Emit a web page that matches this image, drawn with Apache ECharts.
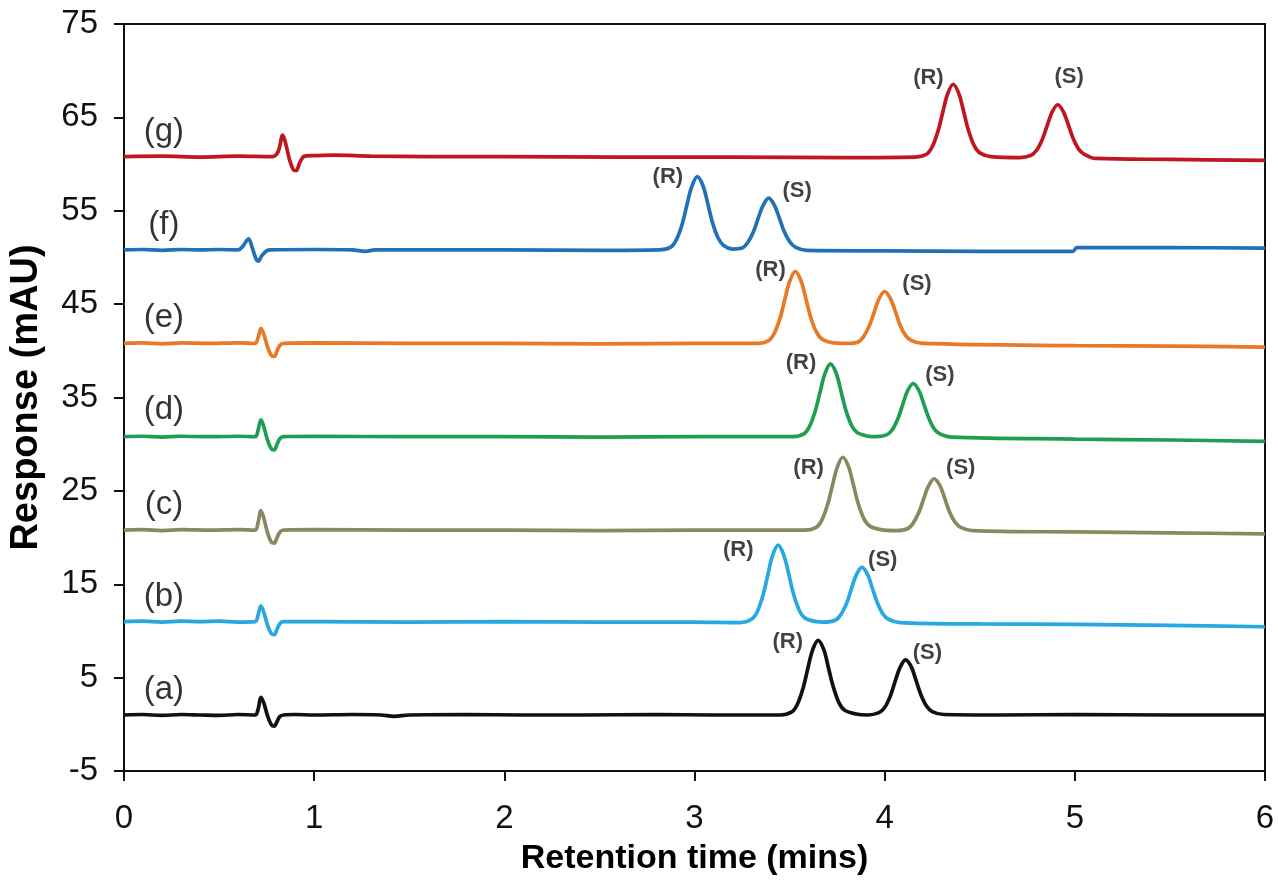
<!DOCTYPE html>
<html>
<head>
<meta charset="utf-8">
<script src="https://cdn.jsdelivr.net/npm/echarts@6/dist/echarts.min.js"></script>
<style>
html,body{margin:0;padding:0;background:#fff;}
#chart{width:1278px;height:887px;}
</style>
</head>
<body>
<div id="chart"></div>
<script>
// ---- data ----
const xTicks = [0, 1, 2, 3, 4, 5, 6];
const yTicks = [-5, 5, 15, 25, 35, 45, 55, 65, 75];

const traceNames = ['(a)', '(b)', '(c)', '(d)', '(e)', '(f)', '(g)'];
const traceColors = ['#111111', '#25a9e0', '#8a8860', '#1f9e52', '#e87a26', '#2171b7', '#c0161e'];

const traceA = [[0,1.0],[0.1,1.05],[0.2,0.95],[0.3,1.05],[0.4,1.0],[0.5,0.95],[0.6,1.05],[0.69,1.0],[0.705,1.6],[0.72,2.9],[0.735,2.3],[0.755,0.9],[0.775,-0.05],[0.79,-0.2],[0.805,0.3],[0.82,0.85],[0.84,1.0],[0.9,1.05],[1.0,1.0],[1.2,1.05],[1.35,1.0],[1.42,0.85],[1.5,1.0],[1.8,1.05],[2.1,1.0],[2.4,1.0],[2.8,1.05],[3.1,1.0],
  [3.45,1.0],[3.51,1.3],[3.54,2.1],[3.57,3.8],[3.595,5.9],[3.62,7.9],[3.65,9.0],[3.68,8.0],[3.705,6.0],[3.73,4.0],[3.76,2.3],[3.79,1.5],[3.85,1.1],
  [3.91,1.0],[3.97,1.25],[4.00,1.8],[4.03,3.05],[4.055,4.6],[4.08,6.05],[4.11,6.9],[4.14,6.15],[4.165,4.7],[4.19,3.2],[4.22,1.95],[4.25,1.35],[4.31,1.05],
  [4.6,1.0],[5.0,1.05],[5.5,1.0],[6,1.0]];

const traceB = [[0,11.0],[0.1,11.05],[0.2,10.95],[0.3,11.05],[0.4,11.0],[0.5,11.05],[0.6,10.95],[0.69,11.0],[0.705,11.7],[0.72,12.7],[0.735,12.0],[0.755,10.6],[0.775,9.7],[0.79,9.6],[0.805,10.2],[0.82,10.8],[0.84,11.0],[1.0,11.0],[1.5,10.95],[2.0,11.0],[2.5,10.95],[3.0,10.95],
  [3.24,10.9],[3.30,11.25],[3.33,12.05],[3.36,13.8],[3.385,15.95],[3.41,18.05],[3.44,19.2],[3.47,18.1],[3.495,16.15],[3.52,14.0],[3.55,12.25],[3.58,11.4],[3.64,11.0],
  [3.68,10.95],[3.74,11.15],[3.77,11.75],[3.80,12.95],[3.825,14.5],[3.85,15.95],[3.88,16.8],[3.91,16.05],[3.935,14.6],[3.96,13.1],[3.99,11.85],[4.02,11.25],[4.08,10.9],
  [4.5,10.75],[5.0,10.7],[5.5,10.6],[6,10.45]];

const traceC = [[0,20.8],[0.1,20.85],[0.2,20.75],[0.3,20.85],[0.45,20.8],[0.6,20.85],[0.69,20.8],[0.705,21.6],[0.72,22.9],[0.735,22.1],[0.755,20.5],[0.775,19.5],[0.79,19.4],[0.805,20.0],[0.82,20.6],[0.84,20.8],[1.0,20.85],[1.5,20.8],[2.0,20.8],[2.5,20.75],[3.0,20.8],
  [3.58,20.8],[3.64,21.1],[3.67,21.9],[3.70,23.55],[3.725,25.55],[3.75,27.5],[3.78,28.6],[3.81,27.6],[3.835,25.7],[3.86,23.7],[3.89,22.05],[3.92,21.25],[3.98,20.85],
  [4.06,20.75],[4.12,20.95],[4.15,21.55],[4.18,22.7],[4.205,24.15],[4.23,25.5],[4.26,26.3],[4.29,25.6],[4.315,24.25],[4.34,22.8],[4.37,21.65],[4.40,21.1],[4.46,20.75],
  [5.0,20.6],[5.5,20.5],[6,20.4]];

const traceD = [[0,30.8],[0.1,30.85],[0.2,30.75],[0.3,30.85],[0.45,30.8],[0.6,30.85],[0.69,30.8],[0.705,31.5],[0.72,32.6],[0.735,31.9],[0.755,30.4],[0.775,29.5],[0.79,29.4],[0.805,30.0],[0.82,30.6],[0.84,30.8],[1.0,30.85],[1.5,30.8],[2.0,30.8],[2.5,30.75],[3.0,30.8],
  [3.515,30.8],[3.575,31.1],[3.605,31.9],[3.635,33.55],[3.66,35.55],[3.685,37.5],[3.715,38.6],[3.745,37.6],[3.77,35.7],[3.795,33.7],[3.825,32.05],[3.855,31.25],[3.915,30.85],
  [3.95,30.8],[4.01,31.0],[4.04,31.55],[4.07,32.75],[4.095,34.25],[4.12,35.7],[4.15,36.5],[4.18,35.75],[4.205,34.35],[4.23,32.9],[4.26,31.65],[4.29,31.1],[4.35,30.75],
  [5.0,30.55],[5.5,30.45],[6,30.3]];

const traceE = [[0,40.8],[0.1,40.85],[0.2,40.75],[0.3,40.85],[0.45,40.8],[0.6,40.85],[0.69,40.8],[0.705,41.4],[0.72,42.4],[0.735,41.8],[0.755,40.4],[0.775,39.5],[0.79,39.4],[0.805,40.0],[0.82,40.6],[0.84,40.8],[1.0,40.85],[1.5,40.8],[2.0,40.8],[2.5,40.75],[3.0,40.8],
  [3.33,40.8],[3.39,41.1],[3.42,41.9],[3.45,43.5],[3.475,45.5],[3.50,47.4],[3.53,48.5],[3.56,47.5],[3.585,45.65],[3.61,43.65],[3.64,42.05],[3.67,41.25],[3.73,40.85],
  [3.80,40.8],[3.86,40.95],[3.89,41.55],[3.92,42.7],[3.945,44.15],[3.97,45.55],[4.00,46.35],[4.03,45.6],[4.055,44.3],[4.08,42.8],[4.11,41.65],[4.14,41.1],[4.20,40.8],
  [5.0,40.55],[5.5,40.5],[6,40.4]];

const traceF = [[0,50.8],[0.1,50.85],[0.2,50.75],[0.3,50.85],[0.4,50.8],[0.5,50.85],[0.6,50.8],[0.625,51.2],[0.655,52.0],[0.675,51.0],[0.695,49.8],[0.705,49.6],[0.725,50.2],[0.75,50.7],[0.77,50.8],[1.0,50.85],[1.2,50.8],[1.27,50.65],[1.32,50.8],[1.6,50.8],[2.0,50.8],[2.5,50.75],
  [2.815,50.8],[2.875,51.1],[2.905,51.9],[2.935,53.55],[2.96,55.6],[2.985,57.55],[3.015,58.65],[3.045,57.65],[3.07,55.75],[3.095,53.7],[3.125,52.05],[3.155,51.25],[3.20,50.9],
  [3.25,51.0],[3.28,51.6],[3.31,52.75],[3.335,54.2],[3.36,55.55],[3.39,56.35],[3.42,55.6],[3.445,54.3],[3.47,52.85],[3.50,51.7],[3.53,51.1],[3.59,50.75],
  [4.0,50.7],[4.5,50.65],[4.99,50.65],[5.01,51.05],[5.5,51.05],[6,51.0]];

const traceG = [[0,60.8],[0.2,60.85],[0.4,60.75],[0.6,60.85],[0.78,60.8],[0.81,61.3],[0.835,63.1],[0.85,62.2],[0.87,60.5],[0.89,59.4],[0.905,59.3],[0.925,60.2],[0.95,60.85],[1.0,60.9],[1.1,60.95],[1.3,60.85],[1.6,60.8],[2.0,60.8],[2.6,60.75],[3.2,60.75],[3.8,60.7],
  [4.16,60.75],[4.22,61.05],[4.25,61.85],[4.28,63.5],[4.305,65.5],[4.33,67.45],[4.36,68.55],[4.39,67.55],[4.415,65.65],[4.44,63.65],[4.47,62.0],[4.50,61.2],[4.56,60.8],
  [4.71,60.7],[4.77,60.95],[4.80,61.5],[4.83,62.7],[4.855,64.15],[4.88,65.55],[4.91,66.35],[4.94,65.6],[4.965,64.25],[4.99,62.8],[5.02,61.6],[5.05,61.05],[5.11,60.6],
  [5.5,60.5],[6,60.4]];

const traces = [traceA, traceB, traceC, traceD, traceE, traceF, traceG];

// trace name labels (a)...(g): position in data units
const traceLabelX = [0.21, 0.21, 0.21, 0.21, 0.21, 0.21, 0.21];
const traceLabelY = [3.7, 13.65, 23.5, 33.7, 43.5, 53.5, 63.4];

// enantiomer peak labels
const peakLabelText = ['(R)','(S)','(R)','(S)','(R)','(S)','(R)','(S)','(R)','(S)','(R)','(S)','(R)','(S)'];
const peakLabelX = [3.49, 4.225, 3.23, 3.99, 3.60, 4.40, 3.56, 4.29, 3.40, 4.17, 2.86, 3.54, 4.23, 4.97];
const peakLabelY = [8.8, 7.65, 18.7, 17.6, 27.45, 27.45, 38.7, 37.4, 48.7, 47.2, 58.6, 57.1, 69.2, 69.3];

// ---- chart ----
const FONT = '"Liberation Sans", Arial, sans-serif';
const chart = echarts.init(document.getElementById('chart'), null, {renderer: 'canvas'});

const series = traces.map((t, i) => ({
  type: 'line',
  name: traceNames[i],
  data: t,
  showSymbol: false,
  symbol: 'none',
  smooth: 0.35,
  lineStyle: {color: traceColors[i], width: 3.7},
  z: 3 + (6 - i),
  animation: false
}));

series.push({
  type: 'scatter',
  data: traceNames.map((n, i) => ({name: n, value: [traceLabelX[i], traceLabelY[i]]})),
  symbolSize: 0,
  label: {show: true, position: 'inside', formatter: p => p.name, fontSize: 33, color: '#000', fontFamily: FONT},
  silent: true, animation: false, z: 10
});
series.push({
  type: 'scatter',
  data: peakLabelText.map((n, i) => ({name: n, value: [peakLabelX[i], peakLabelY[i]]})),
  symbolSize: 0,
  label: {show: true, position: 'inside', formatter: p => p.name, fontSize: 22, fontWeight: 'bold', color: '#111', fontFamily: FONT},
  silent: true, animation: false, z: 10
});

chart.setOption({
  backgroundColor: '#fff',
  animation: false,
  grid: {left: 123, right: 13, top: 24, bottom: 116, show: true, borderColor: '#111', borderWidth: 2, containLabel: false},
  xAxis: {
    type: 'value', min: xTicks[0], max: xTicks[xTicks.length - 1], interval: 1,
    name: 'Retention time (mins)', nameLocation: 'middle', nameGap: 71,
    nameTextStyle: {fontSize: 34, fontWeight: 'bold', color: '#000', fontFamily: FONT},
    axisLine: {show: true, onZero: false, lineStyle: {color: '#111', width: 2}},
    axisTick: {show: true, inside: false, length: 10, lineStyle: {color: '#111', width: 2}},
    axisLabel: {fontSize: 33, color: '#111', margin: 31, fontFamily: FONT},
    splitLine: {show: false}
  },
  yAxis: {
    type: 'value', min: yTicks[0], max: yTicks[yTicks.length - 1], interval: 10,
    name: 'Response (mAU)', nameLocation: 'middle', nameGap: 78,
    nameTextStyle: {fontSize: 38, fontWeight: 'bold', color: '#000', fontFamily: FONT},
    axisLine: {show: true, onZero: false, lineStyle: {color: '#111', width: 2}},
    axisTick: {show: true, inside: false, length: 10, lineStyle: {color: '#111', width: 2}},
    axisLabel: {fontSize: 33, color: '#111', margin: 26, fontFamily: FONT},
    splitLine: {show: false}
  },
  series: series
});
</script>
</body>
</html>
